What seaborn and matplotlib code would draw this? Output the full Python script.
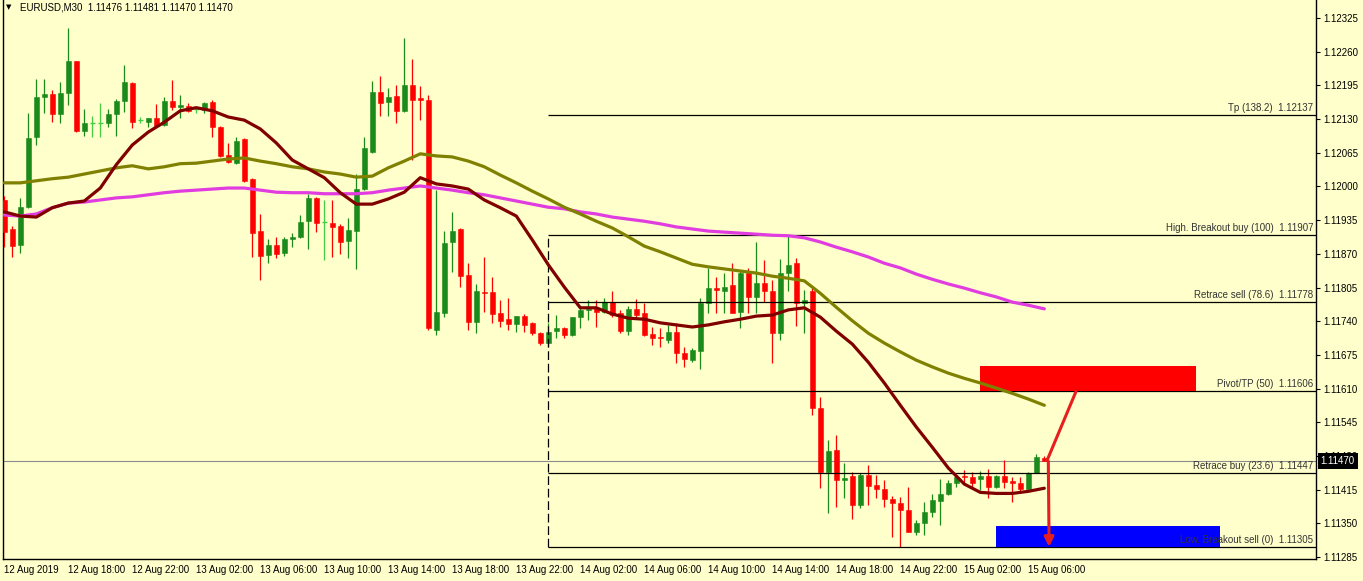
import numpy as np
import pandas as pd
import matplotlib
matplotlib.use("Agg")
import matplotlib.pyplot as plt
import matplotlib.transforms as mtransforms
from matplotlib.patches import Rectangle
import seaborn as sns

# EURUSD M30 candles, 12 Aug 14:00 -> 15 Aug 07:00 (one entry per bar)
opens = [1.11974, 1.11918, 1.11887, 1.11960, 1.12096, 1.12173, 1.12179, 1.12140, 1.12180, 1.12242,
         1.12107, 1.12123, 1.12123, 1.12123, 1.12140, 1.12165, 1.12200, 1.12128, 1.12124, 1.12132,
         1.12119, 1.12165, 1.12154, 1.12155, 1.12150, 1.12148, 1.12163, 1.12115, 1.12061, 1.12045,
         1.12092, 1.12015, 1.11914, 1.11868, 1.11887, 1.11872, 1.11899, 1.11903, 1.11933, 1.11978,
         1.11931, 1.11930, 1.11924, 1.11895, 1.11914, 1.11995, 1.12067, 1.12182, 1.12163, 1.12175,
         1.12146, 1.12196, 1.12171, 1.12167, 1.11723, 1.11756, 1.11893, 1.11918, 1.11829, 1.11739,
         1.11796, 1.11796, 1.11756, 1.11744, 1.11735, 1.11750, 1.11737, 1.11717, 1.11698, 1.11721,
         1.11727, 1.11714, 1.11748, 1.11762, 1.11766, 1.11758, 1.11777, 1.11756, 1.11721, 1.11764,
         1.11756, 1.11715, 1.11710, 1.11704, 1.11719, 1.11679, 1.11665, 1.11683, 1.11775, 1.11804,
         1.11798, 1.11810, 1.11758, 1.11833, 1.11787, 1.11814, 1.11798, 1.11717, 1.11833, 1.11852,
         1.11775, 1.11798, 1.11573, 1.11449, 1.11492, 1.11434, 1.11441, 1.11385, 1.11443, 1.11424,
         1.11416, 1.11397, 1.11389, 1.11376, 1.11333, 1.11351, 1.11372, 1.11393, 1.11407, 1.11428,
         1.11441, 1.11439, 1.11436, 1.11441, 1.11420, 1.11441, 1.11432, 1.11428, 1.11416, 1.11447,
         1.11476]
highs = [1.11982, 1.11924, 1.11978, 1.12142, 1.12207, 1.12207, 1.12186, 1.12202, 1.12306, 1.12243,
         1.12150, 1.12136, 1.12161, 1.12150, 1.12169, 1.12235, 1.12202, 1.12134, 1.12132, 1.12159,
         1.12173, 1.12206, 1.12177, 1.12161, 1.12154, 1.12163, 1.12167, 1.12116, 1.12084, 1.12096,
         1.12093, 1.12016, 1.11947, 1.11899, 1.11903, 1.11903, 1.11910, 1.11945, 1.11986, 1.11980,
         1.11974, 1.11974, 1.11928, 1.11939, 1.12024, 1.12096, 1.12204, 1.12213, 1.12190, 1.12196,
         1.12287, 1.12246, 1.12194, 1.12177, 1.11993, 1.11914, 1.11951, 1.11919, 1.11852, 1.11812,
         1.11864, 1.11825, 1.11781, 1.11785, 1.11750, 1.11754, 1.11738, 1.11719, 1.11737, 1.11752,
         1.11729, 1.11748, 1.11766, 1.11781, 1.11781, 1.11785, 1.11798, 1.11762, 1.11769, 1.11783,
         1.11775, 1.11729, 1.11727, 1.11733, 1.11737, 1.11690, 1.11688, 1.11785, 1.11843, 1.11825,
         1.11833, 1.11852, 1.11839, 1.11843, 1.11893, 1.11858, 1.11820, 1.11860, 1.11907, 1.11862,
         1.11800, 1.11804, 1.11594, 1.11511, 1.11520, 1.11466, 1.11449, 1.11447, 1.11463, 1.11443,
         1.11434, 1.11403, 1.11401, 1.11420, 1.11356, 1.11391, 1.11407, 1.11436, 1.11434, 1.11441,
         1.11453, 1.11449, 1.11451, 1.11455, 1.11443, 1.11472, 1.11439, 1.11439, 1.11449, 1.11484,
         1.11481]
lows = [1.11883, 1.11864, 1.11872, 1.11959, 1.12080, 1.12142, 1.12124, 1.12123, 1.12157, 1.12105,
        1.12097, 1.12096, 1.12096, 1.12115, 1.12097, 1.12144, 1.12113, 1.12123, 1.12115, 1.12115,
        1.12117, 1.12148, 1.12132, 1.12144, 1.12142, 1.12142, 1.12096, 1.12057, 1.12045, 1.12044,
        1.12009, 1.11864, 1.11820, 1.11852, 1.11862, 1.11866, 1.11883, 1.11901, 1.11879, 1.11912,
        1.11858, 1.11864, 1.11870, 1.11862, 1.11841, 1.11993, 1.12065, 1.12136, 1.12136, 1.12123,
        1.12144, 1.12051, 1.12128, 1.11723, 1.11714, 1.11748, 1.11835, 1.11806, 1.11723, 1.11717,
        1.11758, 1.11737, 1.11729, 1.11723, 1.11719, 1.11719, 1.11714, 1.11694, 1.11690, 1.11708,
        1.11708, 1.11712, 1.11727, 1.11742, 1.11729, 1.11756, 1.11748, 1.11717, 1.11714, 1.11748,
        1.11712, 1.11694, 1.11690, 1.11698, 1.11659, 1.11652, 1.11661, 1.11648, 1.11756, 1.11756,
        1.11756, 1.11756, 1.11727, 1.11756, 1.11756, 1.11777, 1.11659, 1.11704, 1.11798, 1.11731,
        1.11717, 1.11559, 1.11418, 1.11370, 1.11382, 1.11399, 1.11358, 1.11380, 1.11385, 1.11399,
        1.11382, 1.11324, 1.11305, 1.11333, 1.11327, 1.11327, 1.11362, 1.11347, 1.11405, 1.11420,
        1.11428, 1.11420, 1.11414, 1.11399, 1.11418, 1.11418, 1.11391, 1.11408, 1.11414, 1.11447,
        1.11470]
closes = [1.11912, 1.11885, 1.11960, 1.12094, 1.12173, 1.12179, 1.12140, 1.12180, 1.12242, 1.12107,
          1.12123, 1.12123, 1.12123, 1.12140, 1.12165, 1.12202, 1.12124, 1.12128, 1.12132, 1.12117,
          1.12165, 1.12154, 1.12157, 1.12146, 1.12150, 1.12161, 1.12115, 1.12059, 1.12047, 1.12088,
          1.12011, 1.11910, 1.11866, 1.11887, 1.11870, 1.11899, 1.11903, 1.11931, 1.11978, 1.11930,
          1.11931, 1.11922, 1.11893, 1.11916, 1.11995, 1.12074, 1.12182, 1.12161, 1.12173, 1.12146,
          1.12196, 1.12167, 1.12167, 1.11727, 1.11758, 1.11891, 1.11914, 1.11827, 1.11739, 1.11798,
          1.11795, 1.11754, 1.11741, 1.11735, 1.11750, 1.11733, 1.11717, 1.11698, 1.11719, 1.11727,
          1.11714, 1.11748, 1.11762, 1.11764, 1.11758, 1.11777, 1.11752, 1.11721, 1.11764, 1.11752,
          1.11714, 1.11708, 1.11708, 1.11719, 1.11679, 1.11667, 1.11685, 1.11775, 1.11804, 1.11800,
          1.11806, 1.11756, 1.11833, 1.11787, 1.11814, 1.11798, 1.11717, 1.11833, 1.11849, 1.11775,
          1.11781, 1.11573, 1.11449, 1.11490, 1.11434, 1.11438, 1.11385, 1.11443, 1.11422, 1.11416,
          1.11397, 1.11389, 1.11376, 1.11333, 1.11351, 1.11372, 1.11395, 1.11407, 1.11428, 1.11439,
          1.11439, 1.11428, 1.11441, 1.11420, 1.11441, 1.11430, 1.11428, 1.11416, 1.11447, 1.11478,
          1.11470]

# moving averages, read every 2 bars
ma_bars = list(range(0, 131, 2))
ma_fast = [1.11951, 1.11943, 1.11941, 1.11959, 1.11968, 1.11972, 1.11997, 1.12042, 1.12080, 1.12105,
           1.12124, 1.12146, 1.12152, 1.12146, 1.12134, 1.12128, 1.12111, 1.12084, 1.12051, 1.12034,
           1.12017, 1.11988, 1.11966, 1.11966, 1.11976, 1.11989, 1.12017, 1.12005, 1.12001, 1.11995,
           1.11974, 1.11959, 1.11943, 1.11897, 1.11849, 1.11806, 1.11766, 1.11766, 1.11754, 1.11746,
           1.11744, 1.11737, 1.11733, 1.11729, 1.11733, 1.11739, 1.11744, 1.11750, 1.11752, 1.11762,
           1.11766, 1.11748, 1.11721, 1.11696, 1.11661, 1.11621, 1.11578, 1.11536, 1.11497, 1.11457,
           1.11426, 1.11410, 1.11408, 1.11408, 1.11412, 1.11418]
ma_mid = [1.12007, 1.12007, 1.12011, 1.12015, 1.12018, 1.12024, 1.12030, 1.12036, 1.12040, 1.12034,
          1.12038, 1.12044, 1.12045, 1.12049, 1.12053, 1.12055, 1.12049, 1.12044, 1.12038, 1.12034,
          1.12028, 1.12024, 1.12018, 1.12020, 1.12036, 1.12049, 1.12063, 1.12059, 1.12057, 1.12049,
          1.12038, 1.12022, 1.12007, 1.11991, 1.11976, 1.11960, 1.11947, 1.11933, 1.11920, 1.11903,
          1.11885, 1.11874, 1.11862, 1.11850, 1.11845, 1.11841, 1.11837, 1.11833, 1.11827, 1.11823,
          1.11818, 1.11794, 1.11767, 1.11741, 1.11717, 1.11698, 1.11681, 1.11665, 1.11652, 1.11640,
          1.11630, 1.11621, 1.11611, 1.11601, 1.11590, 1.11578]
ma_slow = [1.11945, 1.11943, 1.11947, 1.11959, 1.11968, 1.11970, 1.11974, 1.11978, 1.11980, 1.11984,
           1.11988, 1.11991, 1.11993, 1.11995, 1.11997, 1.11997, 1.11993, 1.11989, 1.11988, 1.11988,
           1.11986, 1.11986, 1.11986, 1.11988, 1.11993, 1.11997, 1.12001, 1.11997, 1.11993, 1.11988,
           1.11984, 1.11978, 1.11972, 1.11966, 1.11960, 1.11957, 1.11951, 1.11947, 1.11941, 1.11937,
           1.11933, 1.11928, 1.11922, 1.11918, 1.11914, 1.11912, 1.11910, 1.11908, 1.11906, 1.11905,
           1.11901, 1.11893, 1.11883, 1.11874, 1.11864, 1.11852, 1.11843, 1.11831, 1.11821, 1.11812,
           1.11804, 1.11795, 1.11787, 1.11777, 1.11771, 1.11764]

# fibonacci levels drawn from bar 68
fib_anchor = 68
fib_names = ["Tp (138.2)", "High. Breakout buy (100)", "Retrace sell (78.6)",
             "Pivot/TP (50)", "Retrace buy (23.6)", "Low. Breakout sell (0)"]
fib_prices = [1.12137, 1.11907, 1.11778, 1.11606, 1.11447, 1.11305]

# zones (bar from, bar to, price low, price high)
sell_zone = (122, 149, 1.11606, 1.11654)
buy_zone = (124, 152, 1.11305, 1.11345)

last_price = 1.11470
header = "EURUSD,M30  1.11476 1.11481 1.11470 1.11470"

tick_bars = list(range(0, 129, 8))
tick_labels = ["12 Aug 2019", "12 Aug 18:00", "12 Aug 22:00", "13 Aug 02:00", "13 Aug 06:00",
               "13 Aug 10:00", "13 Aug 14:00", "13 Aug 18:00", "13 Aug 22:00", "14 Aug 02:00",
               "14 Aug 06:00", "14 Aug 10:00", "14 Aug 14:00", "14 Aug 18:00", "14 Aug 22:00",
               "15 Aug 02:00", "15 Aug 06:00"]
price_ticks = [1.11285, 1.11350, 1.11415, 1.11480, 1.11545, 1.11610, 1.11675, 1.11740, 1.11805,
               1.11870, 1.11935, 1.12000, 1.12065, 1.12130, 1.12195, 1.12260, 1.12325]

sns.set_theme(style="white")
plt.rcParams["font.family"] = ["Liberation Sans", "DejaVu Sans"]

BG = "#FFFFCC"
BULL = "#1A8A1A"
BEAR = "#FF0000"
DOJI = "#44CC44"

W, H = 1363, 581
fig = plt.figure(figsize=(W / 100, H / 100), dpi=100)
fig.patch.set_facecolor(BG)
ax = fig.add_axes([3 / W, 22 / H, 1313 / W, 559 / H])
ax.set_facecolor(BG)

o = np.array(opens)
h = np.array(highs)
l = np.array(lows)
c = np.array(closes)
x = np.arange(len(o))
up = c > o
dn = c < o
flat = c == o

wick_col = np.where(up, BULL, np.where(dn, BEAR, DOJI))
ax.vlines(x, l, h, colors=wick_col, lw=0.9, zorder=3)
ax.bar(x[up], c[up] - o[up], bottom=o[up], width=0.62, color=BULL,
       edgecolor=BULL, lw=0.4, zorder=3)
ax.bar(x[dn], o[dn] - c[dn], bottom=c[dn], width=0.62, color=BEAR,
       edgecolor=BEAR, lw=0.4, zorder=3)
ax.hlines(o[flat], x[flat] - 0.31, x[flat] + 0.31, colors=DOJI, lw=1.0, zorder=3)

# moving averages
ma = pd.DataFrame({
    "bar": ma_bars * 3,
    "price": ma_slow + ma_mid + ma_fast,
    "ma": ["slow"] * len(ma_bars) + ["mid"] * len(ma_bars) + ["fast"] * len(ma_bars),
})
sns.lineplot(data=ma, x="bar", y="price", hue="ma", ax=ax, sort=False, estimator=None,
             palette={"slow": "#E03CE0", "mid": "#808000", "fast": "#800000"},
             lw=2.3, legend=False, zorder=5)

xmin, xmax = -0.16, 163.96
ax.set_xlim(xmin, xmax)
ax.set_ylim(1.112815, 1.123597)

# current price line
ax.axhline(last_price, color="#8C8C8C", lw=0.8, zorder=1)

# fib levels
ax.hlines(fib_prices, fib_anchor, xmax, colors="black", lw=0.9, zorder=4)
ax.vlines(fib_anchor, fib_prices[-1], fib_prices[1], colors="black", lw=0.9,
          linestyles=(0, (7, 3)), zorder=4)
for name, p in zip(fib_names, fib_prices):
    ax.annotate(f"{name}  {p:.5f}", xy=(xmax, p), xytext=(-2, 1.5),
                textcoords="offset points", ha="right", va="bottom",
                fontsize=7, color="#333333", zorder=6.5)

# zones
for (b0, b1, p0, p1), col in [(sell_zone, "#FF0000"), (buy_zone, "#0000FF")]:
    ax.add_patch(Rectangle((b0, p0), b1 - b0, p1 - p0, facecolor=col,
                           edgecolor="none", zorder=4.5 if col == "#FF0000" else 6))

# projected path
ax.plot([len(o) - 0.7, sell_zone[0] + 12], [last_price, sell_zone[2]],
        color="#E81E1E", lw=2.2, zorder=7, solid_capstyle="butt")
ax.annotate("", xy=(len(o) - 0.4, buy_zone[2]), xytext=(len(o) - 0.5, last_price),
            arrowprops=dict(arrowstyle="-|>", color="#E81E1E", lw=2.2,
                            mutation_scale=14, shrinkA=0, shrinkB=0), zorder=7)

# axes styling
ax.spines["top"].set_visible(False)
for side in ["left", "right", "bottom"]:
    ax.spines[side].set_color("black")
    ax.spines[side].set_linewidth(1.0)

ax.yaxis.set_ticks_position("right")
ax.set_yticks(price_ticks)
ax.set_yticklabels([f"{p:.5f}" for p in price_ticks])
ax.tick_params(axis="y", direction="out", length=3, width=0.8, pad=2,
               labelsize=7, colors="black")
ax.set_xticks(tick_bars)
ax.set_xticklabels(tick_labels, ha="left")
ax.tick_params(axis="x", direction="out", length=3.5, width=0.8, pad=0.5,
               labelsize=7, colors="black")
ax.set_xlabel("")
ax.set_ylabel("")
ax.grid(False)

# last price box on the price scale
trans = mtransforms.blended_transform_factory(ax.transAxes, ax.transData)
ax.text(1.0035, last_price, "1.11470", transform=trans, ha="left", va="center",
        fontsize=7, color="white", clip_on=False, zorder=10,
        bbox=dict(boxstyle="square,pad=0.3", fc="black", ec="none"))

# header
fig.text(6 / W, 1 - 7 / H, "\u25bc", fontsize=5, va="center", ha="left",
         family="DejaVu Sans", color="black")
fig.text(20 / W, 1 - 7 / H, header, fontsize=7, va="center", ha="left", color="black")

fig.savefig("out.png", dpi=100, facecolor=BG)
